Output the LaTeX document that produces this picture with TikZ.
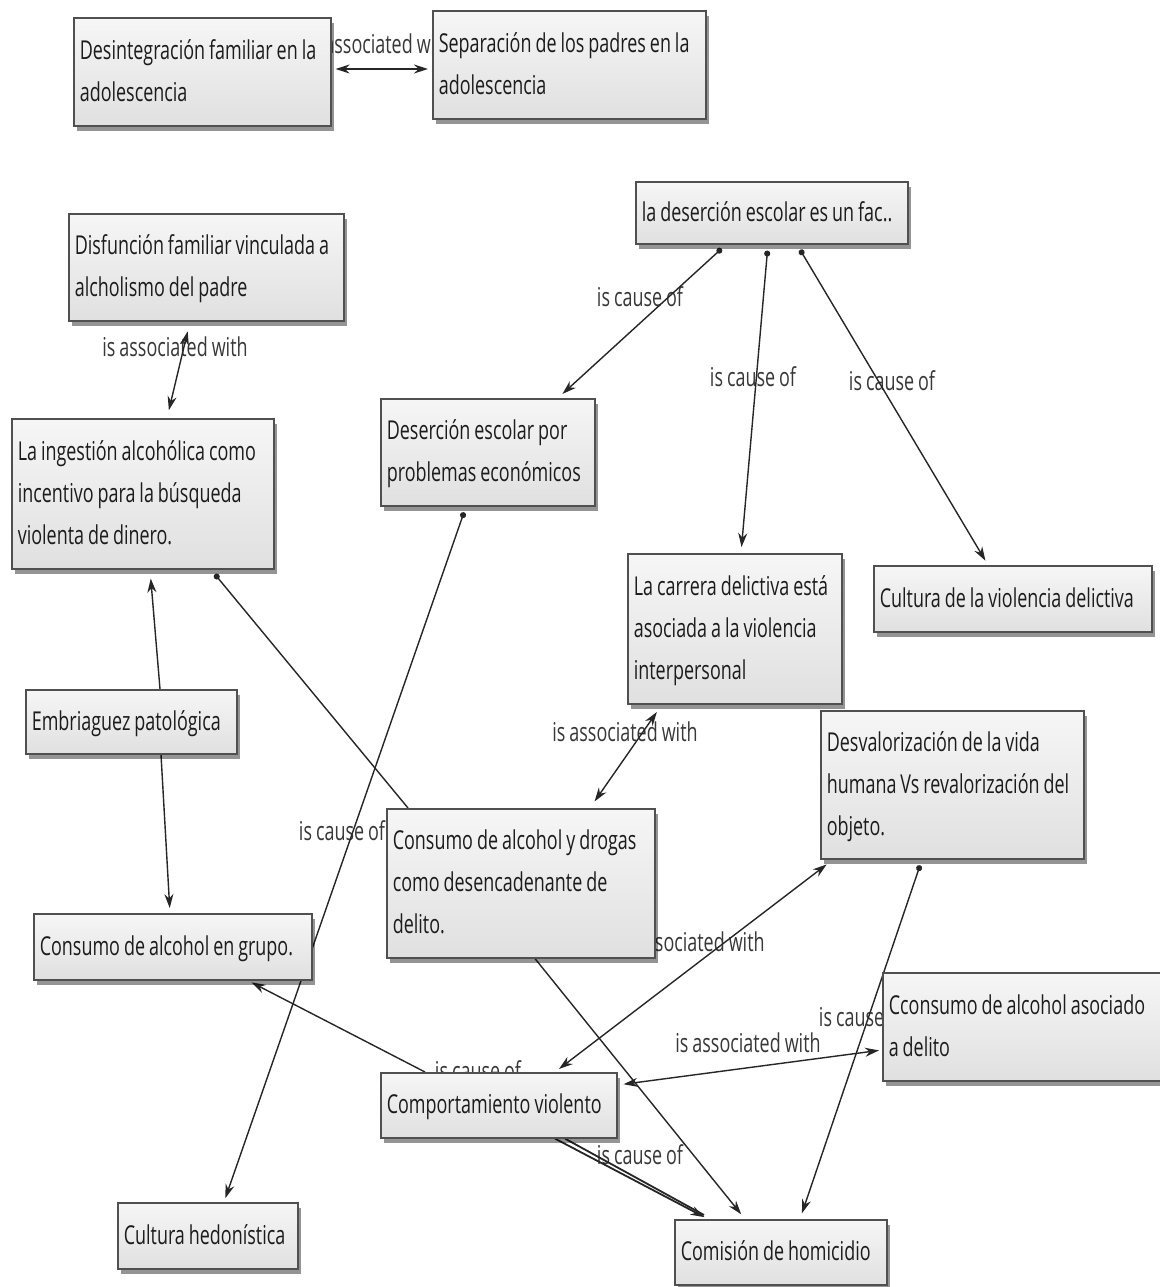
\documentclass[tikz,border=0pt]{standalone}
\usepackage{fontspec}
\setmainfont{Open Sans}[FakeStretch=0.69,WordSpace=0.85]
\usetikzlibrary{arrows.meta,shadows,calc}
\pgfdeclarelayer{back}\pgfdeclarelayer{bg}\pgfsetlayers{back,bg,main}
\definecolor{boxline}{HTML}{505050}
\definecolor{boxtop}{HTML}{F6F6F6}
\definecolor{boxbot}{HTML}{E0E0E0}
\definecolor{edgec}{HTML}{262626}
\definecolor{txt}{HTML}{1C1C1C}
\definecolor{labtxt}{HTML}{383838}
\newcommand\bxt[1]{{\spaceskip=0pt\xspaceskip=0pt\relax\begin{tabular}{@{}l@{}}#1\end{tabular}}}
\begin{document}
\begin{tikzpicture}[x=1pt,y=-1pt,
  concept/.style={draw=boxline, line width=1.6pt, top color=boxtop, bottom color=boxbot,
    anchor=north west, inner xsep=6pt, inner ysep=0pt, align=left,
    font=\fontsize{26}{42}\selectfont, text=txt,
    drop shadow={shadow xshift=3pt,shadow yshift=-5pt,opacity=0.42,fill=black}},
  link/.style={draw=edgec, line width=1.4pt},
  cause/.style={link, {Circle[length=6pt]}-{Stealth[length=14pt,width=9pt]}},
  assoc/.style={link, {Stealth[length=14pt,width=9pt]}-{Stealth[length=14pt,width=9pt]}},
  arr/.style={link, -{Stealth[length=14pt,width=9pt]}},
  dotline/.style={link, {Circle[length=6pt]}-},
  lab/.style={font=\fontsize{26}{30}\selectfont, text=labtxt, inner sep=0pt}]
\begin{pgfonlayer}{back}
\fill[white] (0,0) rectangle (1159,1287);
\end{pgfonlayer}
\useasboundingbox (0,0) rectangle (1159,1287);

% concepts
\node[concept, text width=245pt, minimum height=108pt] (A) at (73,17) {\bxt{Desintegración familiar en la\\adolescencia}};
\node[concept, text width=261pt, minimum height=108pt] (B) at (432,10) {\bxt{Separación de los padres en la\\adolescencia}};
\node[concept, text width=260pt, minimum height=62pt] (C) at (635,181) {\bxt{la deserción escolar es un fac..}};
\node[concept, text width=263pt, minimum height=107pt] (D) at (68,213) {\bxt{Disfunción familiar vinculada a\\alcholismo del padre}};
\node[concept, text width=250pt, minimum height=150pt] (E) at (11,418) {\bxt{La ingestión alcohólica como\\incentivo para la búsqueda\\violenta de dinero.}};
\node[concept, text width=202pt, minimum height=107pt] (F) at (380,398) {\bxt{Deserción escolar por\\problemas económicos}};
\node[concept, text width=202pt, minimum height=150pt] (G) at (627,553) {\bxt{La carrera delictiva está\\asociada a la violencia\\interpersonal}};
\node[concept, text width=266pt, minimum height=66pt] (H) at (873,565) {\bxt{Cultura de la violencia delictiva}};
\node[concept, text width=199pt, minimum height=64pt] (I) at (25,689) {\bxt{Embriaguez patológica}};
\node[concept, text width=251pt, minimum height=148pt] (J) at (820,710) {\bxt{Desvalorización de la vida\\humana Vs revalorización del\\objeto.}};
\node[concept, text width=256pt, minimum height=149pt] (K) at (386,808) {\bxt{Consumo de alcohol y drogas\\como desencadenante de\\delito.}};
\node[concept, text width=266pt, minimum height=66pt] (L) at (33,913) {\bxt{Consumo de alcohol en grupo.}};
\node[concept, text width=278pt, minimum height=108pt] (M) at (882,972) {\bxt{Cconsumo de alcohol asociado\\a delito}};
\node[concept, text width=224pt, minimum height=65pt] (N) at (380,1072) {\bxt{Comportamiento violento}};
\node[concept, text width=168pt, minimum height=66pt] (O) at (117,1202) {\bxt{Cultura hedonística}};
\node[concept, text width=200pt, minimum height=65pt] (P) at (674,1219) {\bxt{Comisión de homicidio}};

\begin{pgfonlayer}{bg}
% labels
\node[lab] (l1) at (380,44) {is associated with};
\node[lab] (l2) at (175,347) {is associated with};
\node[lab] (l3) at (640,297) {is cause of};
\node[lab] (l4) at (753,377) {is cause of};
\node[lab] (l5) at (892,381) {is cause of};
\node[lab] (l6) at (625,732) {is associated with};
\node[lab] (l7) at (342,831) {is cause of};
\node[lab] (l8) at (692,942) {is associated with};
\node[lab] (l9) at (862,1017) {is cause of};
\node[lab] (l10) at (748,1043) {is associated with};
\node[lab] (l11) at (478,1071) {is cause of};
\node[lab] (l12) at (640,1155) {is cause of};
% connectors
\draw[assoc, shorten <=4pt, shorten >=4pt] ([yshift=-52pt]A.north east) -- ([yshift=-59pt]B.north west);
\draw[assoc, shorten <=10pt, shorten >=8pt] ([xshift=122pt]D.south west) -- ([xshift=156pt]E.north west);
\draw[cause, shorten <=6pt, shorten >=6pt] ([xshift=91pt]C.south west) -- ([xshift=178pt]F.north west);
\draw[cause, shorten <=6pt, shorten >=6pt] ([xshift=133pt]C.south west) -- ([xshift=114pt]G.north west);
\draw[cause, shorten <=6pt, shorten >=5pt] ([xshift=162pt]C.south west) -- ([xshift=115pt]H.north west);
\draw[assoc, shorten <=8pt, shorten >=9pt] ([xshift=204pt]K.north west) -- ([xshift=35pt]G.south west);
\draw[arr, shorten >=9pt] ([xshift=135pt]I.north west) -- ([xshift=139pt]E.south west);
\draw[arr, shorten >=5pt] ([xshift=136pt]I.south west) -- ([xshift=137pt]L.north west);
\draw[dotline, shorten <=6pt] ([xshift=200pt]E.south west) -- ([xshift=22pt]K.north west);
\draw[cause, shorten <=6pt, shorten >=4pt] ([xshift=86pt]F.south west) -- ([xshift=107pt]O.north west);
\draw[arr, shorten >=6pt] ([xshift=149pt]K.south west) -- ([xshift=71pt]P.north west);
\draw[cause, shorten <=6pt, shorten >=6pt] ([xshift=102pt]J.south west) -- ([xshift=126pt]P.north west);
\draw[assoc, shorten <=5pt, shorten >=8pt] ([xshift=175pt]N.north west) -- ([xshift=13pt]J.south west);
\draw[assoc, shorten <=6pt, shorten >=3pt] ([yshift=-13pt]N.north east) -- ([yshift=-78pt]M.north west);
\draw[arr, shorten >=4pt] ([xshift=45pt]N.north west) -- ([xshift=215pt]L.south west);
\draw[link, line width=1.8pt] ([xshift=185pt]N.south west) -- ([xshift=30pt,yshift=4pt]P.north west);
\draw[arr, line width=1.8pt, shorten >=4pt] ([xshift=175pt]N.south west) -- ([xshift=34pt]P.north west);
\end{pgfonlayer}
\end{tikzpicture}
\end{document}
